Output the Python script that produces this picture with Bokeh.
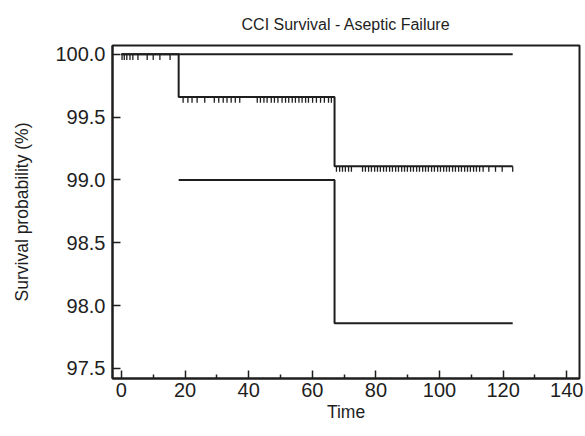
import numpy as np
from bokeh.plotting import figure
from bokeh.models import Range1d, FixedTicker
from bokeh.embed import file_html
from bokeh.resources import INLINE

# ---- data ----
title = "CCI Survival - Aseptic Failure"
x_label = "Time"
y_label = "Survival probability (%)"

# curve A (no events)
a_time = [0, 123]
a_surv = [100.0, 100.0]

# curve B (with censoring)
b_time = [0, 18, 67, 123]
b_surv = [100.0, 99.66, 99.11, 99.11]

# curve C
c_time = [18, 67, 123]
c_surv = [99.0, 97.86, 97.86]

# censor times of curve B
b_censor = [0.2, 0.9, 1.7, 2.7, 3.6, 5.2, 8.1, 10.0, 12.1, 15.3,
            19.4, 20.9, 22.2, 23.8, 26.2, 29.2, 30.6, 32.0, 33.2, 34.5, 35.8, 37.2,
            42.7, 43.7, 44.8, 45.8, 47.1, 48.1, 49.2, 50.5, 51.6, 52.6, 53.7, 54.7,
            55.8, 56.8, 57.9, 58.8, 60.1, 61.3, 62.6, 63.8, 65.1, 66.0,
            67.6, 68.6, 69.5, 70.4, 71.4, 72.3, 75.8, 76.7, 77.7, 78.6, 79.6, 80.5,
            81.4, 82.4, 83.3, 84.3, 85.2, 86.2, 87.1, 88.1, 89.0, 89.9, 90.9, 91.8,
            92.8, 93.7, 94.7, 95.6, 96.5, 97.5, 98.4, 99.4, 100.3, 101.3, 102.2,
            103.1, 104.1, 105.0, 106.0, 106.9, 107.9, 108.8, 109.7, 110.7, 111.6,
            112.6, 113.7, 115.5, 117.6, 119.7, 123.0]

x_ticks = [0, 20, 40, 60, 80, 100, 120, 140]
y_ticks = [97.5, 98.0, 98.5, 99.0, 99.5, 100.0]

# ---- figure ----
FONT = "Liberation Sans"
INK = "#1e1e1e"

p = figure(width=583, height=430, output_backend="svg", toolbar_location=None,
           x_range=Range1d(-2.8, 144), y_range=Range1d(97.42, 100.07),
           min_border_left=112, min_border_right=4, min_border_top=44,
           min_border_bottom=52, title=title)
p.background_fill_color = "white"
p.border_fill_color = "white"
p.outline_line_color = INK
p.outline_line_width = 2
p.xgrid.visible = False
p.ygrid.visible = False

p.title.align = "center"
p.title.text_font = FONT
p.title.text_font_size = "16px"
p.title.text_font_style = "normal"
p.title.text_color = INK
p.title.text_line_height = 1.0
p.title.standoff = 26

for ax in (p.xaxis[0], p.yaxis[0]):
    ax.axis_line_color = INK
    ax.axis_line_width = 2
    ax.major_tick_line_color = INK
    ax.major_tick_line_width = 1.5
    ax.minor_tick_line_color = INK
    ax.minor_tick_line_width = 1.5
    ax.major_tick_in = 8
    ax.major_tick_out = 0
    ax.minor_tick_in = 4
    ax.minor_tick_out = 0
    ax.major_label_text_font = FONT
    ax.major_label_text_font_size = "20px"
    ax.major_label_text_color = INK
    ax.axis_label_text_font = FONT
    ax.axis_label_text_font_size = "17.5px"
    ax.axis_label_text_font_style = "normal"
    ax.axis_label_text_color = INK

p.xaxis[0].ticker = FixedTicker(ticks=x_ticks, minor_ticks=list(np.arange(10, 140, 20)))
p.yaxis[0].ticker = FixedTicker(ticks=y_ticks, minor_ticks=[])
p.yaxis[0].major_label_overrides = {v: f"{v:.1f}" for v in y_ticks}
p.xaxis[0].axis_label = x_label
p.yaxis[0].axis_label = y_label
p.xaxis[0].major_label_standoff = 4
p.xaxis[0].axis_label_standoff = 2
p.yaxis[0].major_label_standoff = 7
p.yaxis[0].axis_label_standoff = 20

lw = 2
p.step(a_time, a_surv, mode="after", line_color=INK, line_width=lw)
p.step(b_time, b_surv, mode="after", line_color=INK, line_width=lw)
p.step(c_time, c_surv, mode="after", line_color=INK, line_width=lw)

# censor ticks hang below curve B
bt = np.array(b_time, dtype=float)
bs = np.array(b_surv, dtype=float)
cx = np.array(b_censor, dtype=float)
idx = np.clip(np.searchsorted(bt, cx, side="right") - 1, 0, len(bs) - 1)
cy = bs[idx]
p.segment(x0=cx, y0=cy, x1=cx, y1=cy - 0.045, line_color=INK, line_width=1.3)

open("out.html", "w").write(file_html(p, INLINE))
